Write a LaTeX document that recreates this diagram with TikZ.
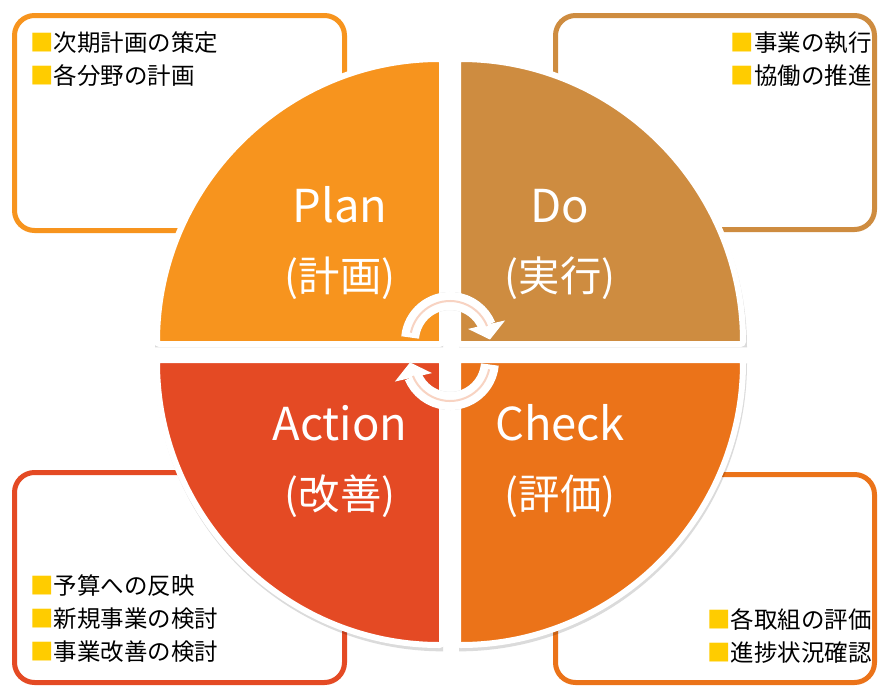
\documentclass[tikz,border=0pt]{standalone}
\usepackage{fontspec}
\setmainfont{Noto Sans CJK JP}
\usetikzlibrary{arrows.meta,bending,positioning}

\definecolor{planorange}{HTML}{F7941E}
\definecolor{dobrown}{HTML}{CE8C40}
\definecolor{checkorange}{HTML}{EB7319}
\definecolor{actionred}{HTML}{E44A24}
\definecolor{markyellow}{HTML}{FFCC00}
\definecolor{turnpink}{HTML}{F8D3C2}

\newcommand{\mk}{{\color{markyellow}■}}

\begin{document}
\begin{tikzpicture}[x=0.75pt, y=-0.75pt,
    notebox/.style={draw, rounded corners=15pt, line width=3.75pt, fill=white, inner sep=0pt},
    note/.style={inner sep=0pt, font=\fontsize{17.6pt}{24.75pt}\selectfont},
    quad/.style={draw=white, line width=4.5pt, rounded corners=2pt},
    quadshadow/.style={fill=black, opacity=0.14, xshift=0.75pt, yshift=-2.5pt},
    phase/.style={text=white, font=\fontsize{34pt}{40pt}\selectfont, anchor=base, inner sep=0pt},
    phasejp/.style={text=white, font=\fontsize{31pt}{36pt}\selectfont, anchor=base, inner sep=0pt},
    turn/.style={draw=white, line width=13.5pt, -{Triangle[length=11.5pt, width=28pt, flex]}},
    turnshadow/.style={turn, draw=black, opacity=0.15, xshift=0.75pt, yshift=-2.5pt},
    turnline/.style={draw=turnpink, line width=1.5pt}
]
\useasboundingbox[fill=white] (0,0) rectangle (879,686);

% Note boxes
\node[notebox, draw=planorange, minimum width=247.5pt, minimum height=161.25pt] (planbox) at (179.5,123) {};
\node[notebox, draw=dobrown, minimum width=239.25pt, minimum height=160.5pt] (dobox) at (715,122.5) {};
\node[notebox, draw=actionred, minimum width=247.5pt, minimum height=157.5pt] (actionbox) at (179.5,577.5) {};
\node[notebox, draw=checkorange, minimum width=239.25pt, minimum height=156pt] (checkbox) at (715,578.5) {};

\node[note, anchor=west, align=left] (plannote) at (30,59) {\mk 次期計画の策定\\\mk 各分野の計画};
\node[note, anchor=east, align=right] (donote) at (872,59) {\mk 事業の執行\\\mk 協働の推進};
\node[note, anchor=west, align=left] (actionnote) at (30,618.5) {\mk 予算への反映\\\mk 新規事業の検討\\\mk 事業改善の検討};
\node[note, anchor=east, align=right] (checknote) at (872,636.5) {\mk 各取組の評価\\\mk 進捗状況確認};

% Quadrants
\fill[quadshadow] (442,344) -- ++(180:288) arc[start angle=180, end angle=270, radius=288] -- cycle;
\fill[quadshadow] (458,344) -- ++(270:288) arc[start angle=270, end angle=360, radius=288] -- cycle;
\fill[quadshadow] (458,360) -- ++(0:288) arc[start angle=0, end angle=90, radius=288] -- cycle;
\fill[quadshadow] (442,360) -- ++(90:288) arc[start angle=90, end angle=180, radius=288] -- cycle;

\filldraw[quad, fill=planorange] (442,344) -- ++(180:285) arc[start angle=180, end angle=270, radius=285] -- cycle;
\filldraw[quad, fill=dobrown] (458,344) -- ++(270:285) arc[start angle=270, end angle=360, radius=285] -- cycle;
\filldraw[quad, fill=checkorange] (458,360) -- ++(0:285) arc[start angle=0, end angle=90, radius=285] -- cycle;
\filldraw[quad, fill=actionred] (442,360) -- ++(90:285) arc[start angle=90, end angle=180, radius=285] -- cycle;

% Phase labels
\node[phase] (plan) at (340,222) {Plan};
\node[phasejp] (planjp) at (340,291) {(計画)};
\node[phase] (do) at (560,222) {Do};
\node[phasejp] (dojp) at (560,291) {(実行)};
\node[phase] (action) at (340,440) {Action};
\node[phasejp] (actionjp) at (340,509) {(改善)};
\node[phase] (check) at (560,440) {Check};
\node[phasejp] (checkjp) at (560,509) {(評価)};

% Cycle arrows
\coordinate (uppivot) at (450,341);
\coordinate (lowpivot) at (450,361);
\draw[turnshadow] (uppivot) ++(185:40) arc[start angle=185, end angle=358, radius=40];
\draw[turnshadow] (lowpivot) ++(5:40) arc[start angle=5, end angle=178, radius=40];
\draw[turn] (uppivot) ++(185:40) arc[start angle=185, end angle=358, radius=40];
\draw[turn] (lowpivot) ++(5:40) arc[start angle=5, end angle=178, radius=40];
\draw[turnline] (uppivot) ++(192:40) arc[start angle=192, end angle=338, radius=40];
\draw[turnline] (lowpivot) ++(12:40) arc[start angle=12, end angle=158, radius=40];

\end{tikzpicture}
\end{document}
